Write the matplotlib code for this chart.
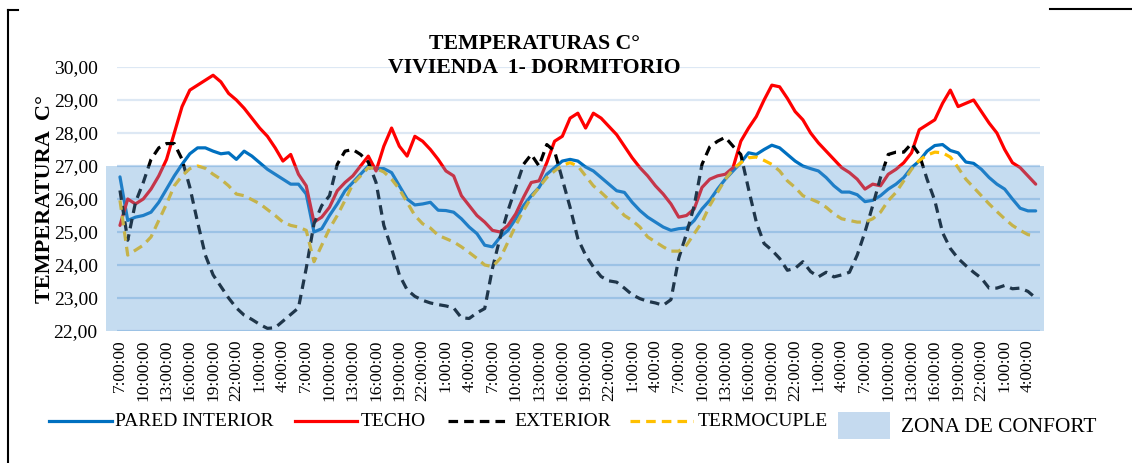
import matplotlib
matplotlib.use("Agg")
import matplotlib.pyplot as plt
from matplotlib.lines import Line2D
from matplotlib.patches import Rectangle

plt.rcParams['font.family'] = ['Liberation Serif', 'DejaVu Serif']

# ---- data (hourly, starting 7:00 day 1) ----
hours_labels = ["7:00:00", "10:00:00", "13:00:00", "16:00:00", "19:00:00",
                "22:00:00", "1:00:00", "4:00:00"] * 5

techo = [25.2, 26.0, 25.85, 26.0, 26.3, 26.7, 27.2, 28.0, 28.8, 29.3,
         29.45, 29.6, 29.75, 29.55, 29.2, 29.0, 28.75, 28.45, 28.15, 27.9,
         27.55, 27.15, 27.35, 26.75, 26.4, 25.3, 25.45, 25.75, 26.25, 26.5,
         26.7, 27.0, 27.3, 26.85, 27.6, 28.15, 27.6, 27.3, 27.9, 27.75,
         27.5, 27.2, 26.85, 26.7, 26.1, 25.8, 25.5, 25.3, 25.05, 25.0,
         25.2, 25.55, 26.05, 26.5, 26.55, 27.1, 27.75, 27.9, 28.45, 28.6,
         28.15, 28.6, 28.45, 28.2, 27.95, 27.6, 27.25, 26.95, 26.7, 26.4,
         26.15, 25.85, 25.45, 25.5, 25.7, 26.35, 26.6, 26.7, 26.75, 26.95,
         27.75, 28.15, 28.5, 29.0, 29.45, 29.4, 29.05, 28.65, 28.4, 28.0,
         27.7, 27.45, 27.2, 26.95, 26.8, 26.6, 26.3, 26.45, 26.4, 26.75,
         26.9, 27.1, 27.4, 28.1, 28.25, 28.4, 28.9, 29.3, 28.8, 28.9,
         29.0, 28.65, 28.3, 28.0, 27.5, 27.1, 26.95, 26.7, 26.45]

pared = [26.67, 25.35, 25.45, 25.5, 25.6, 25.9, 26.3, 26.7, 27.05, 27.37,
         27.55, 27.55, 27.45, 27.37, 27.4, 27.2, 27.45, 27.3, 27.1, 26.9,
         26.75, 26.6, 26.45, 26.45, 26.15, 25.0, 25.1, 25.5, 25.85, 26.25,
         26.5, 26.75, 27.0, 26.92, 26.92, 26.8, 26.4, 26.0, 25.82, 25.85,
         25.9, 25.66, 25.65, 25.6, 25.4, 25.15, 24.95, 24.6, 24.55, 24.85,
         25.05, 25.4, 25.8, 26.1, 26.35, 26.75, 26.95, 27.15, 27.2, 27.15,
         26.97, 26.85, 26.65, 26.45, 26.25, 26.2, 25.9, 25.65, 25.45, 25.3,
         25.15, 25.05, 25.1, 25.12, 25.35, 25.7, 25.96, 26.3, 26.6, 26.85,
         27.1, 27.4, 27.35, 27.5, 27.63, 27.55, 27.35, 27.15, 27.0, 26.92,
         26.85, 26.65, 26.4, 26.21, 26.21, 26.13, 25.92, 25.96, 26.1, 26.3,
         26.45, 26.65, 26.95, 27.15, 27.45, 27.62, 27.65, 27.47, 27.4, 27.12,
         27.08, 26.9, 26.65, 26.45, 26.3, 26.0, 25.72, 25.64, 25.64]

exterior = [26.26, 24.75, 25.9, 26.5, 27.2, 27.55, 27.68, 27.68, 27.2, 26.36,
            25.3, 24.3, 23.7, 23.35, 23.0, 22.7, 22.48, 22.35, 22.2, 22.08,
            22.1, 22.3, 22.5, 22.7, 23.9, 25.25, 25.8, 26.1, 27.05, 27.45,
            27.5, 27.35, 27.12, 26.5, 25.2, 24.5, 23.7, 23.25, 23.05, 22.93,
            22.85, 22.8, 22.76, 22.7, 22.4, 22.38, 22.55, 22.68, 23.9, 24.85,
            25.65, 26.35, 27.05, 27.35, 27.0, 27.65, 27.45, 26.6, 25.75, 24.8,
            24.3, 23.94, 23.65, 23.52, 23.48, 23.3, 23.1, 22.98, 22.9, 22.85,
            22.78, 22.95, 24.2, 24.95, 25.8, 27.05, 27.58, 27.75, 27.87, 27.6,
            27.35, 26.3, 25.3, 24.65, 24.45, 24.2, 23.84, 23.9, 24.1, 23.8,
            23.64, 23.78, 23.64, 23.7, 23.78, 24.3, 25.0, 25.8, 26.65, 27.35,
            27.42, 27.42, 27.68, 27.35, 26.6, 25.95, 24.98, 24.5, 24.2, 23.98,
            23.78, 23.6, 23.3, 23.3, 23.38, 23.28, 23.3, 23.2, 23.0]

termocuple = [25.96, 24.3, 24.45, 24.6, 24.85, 25.35, 25.85, 26.4, 26.7, 26.92,
              27.0, 26.93, 26.75, 26.6, 26.4, 26.15, 26.1, 25.98, 25.86, 25.68,
              25.5, 25.3, 25.2, 25.15, 25.05, 24.1, 24.6, 25.1, 25.5, 25.96,
              26.45, 26.7, 26.95, 26.92, 26.82, 26.6, 26.3, 25.9, 25.5, 25.25,
              25.12, 24.9, 24.8, 24.7, 24.55, 24.38, 24.2, 24.0, 23.95, 24.2,
              24.7, 25.2, 25.65, 26.05, 26.35, 26.65, 26.85, 27.02, 27.1, 27.0,
              26.7, 26.4, 26.2, 25.98, 25.75, 25.5, 25.35, 25.15, 24.85, 24.7,
              24.55, 24.42, 24.42, 24.6, 24.95, 25.3, 25.8, 26.2, 26.6, 26.9,
              27.1, 27.25, 27.27, 27.17, 27.05, 26.85, 26.55, 26.35, 26.1, 26.0,
              25.9, 25.75, 25.55, 25.4, 25.35, 25.3, 25.3, 25.4, 25.6, 25.95,
              26.2, 26.55, 26.9, 27.17, 27.33, 27.42, 27.4, 27.27, 26.95, 26.6,
              26.35, 26.1, 25.85, 25.62, 25.4, 25.2, 25.05, 24.92, 24.88]

comfort_low, comfort_high = 22, 27
y_ticks = [22, 23, 24, 25, 26, 27, 28, 29, 30]

# ---- figure ----
W, H = 1132, 463
fig = plt.figure(figsize=(W / 100, H / 100), dpi=100)
fig.patch.set_facecolor('white')

def fx(px):
    return px / W

def fy(py):
    return 1 - py / H

ax = fig.add_axes([fx(106), fy(331), fx(1044) - fx(106), fy(67) - fy(331)])
x = list(range(len(techo)))

ax.set_xlim(-1.8, 119.07)
ax.set_ylim(22, 30)

# gridlines
for v in y_ticks:
    col = '#dde8f4' if v > comfort_high else '#c0d8ef'
    ax.hlines(v, -0.4, 118.6, color=col, lw=1.6, zorder=0.5)

blue = '#0070C0'
red = '#FF0000'
black = '#000000'
gold = '#FFC000'
lw = 2.3
dash = (0, (3.0, 1.9))

ax.plot(x, pared, color=blue, lw=lw, zorder=2, solid_capstyle='round', solid_joinstyle='round')
ax.plot(x, techo, color=red, lw=lw, zorder=2, solid_capstyle='round', solid_joinstyle='round')
ax.plot(x, exterior, color=black, lw=lw, ls=dash, zorder=2, dash_joinstyle='round')
ax.plot(x, termocuple, color=gold, lw=lw, ls=dash, zorder=2, dash_joinstyle='round')

# comfort zone overlay
ax.axhspan(comfort_low, comfort_high, color='#5B9BD5', alpha=0.35, lw=0, zorder=3)

ax.set_yticks(y_ticks)
ax.set_yticklabels([f"{v:.2f}".replace('.', ',') for v in y_ticks], fontsize=14)
ax.set_xticks(list(range(0, 118, 3)))
ax.set_xticklabels(hours_labels, rotation=90, fontsize=12.5)
ax.tick_params(axis='both', length=0)
ax.tick_params(axis='y', pad=6)
ax.tick_params(axis='x', pad=6)
for s in ax.spines.values():
    s.set_visible(False)

fig.text(fx(45), fy(199), "TEMPERATURA  C°", rotation=90, ha='center', va='center',
         fontsize=16, fontweight='bold')

# title
fig.text(fx(534), fy(44), "TEMPERATURAS C°", ha='center', va='center',
         fontsize=15.7, fontweight='bold')
fig.text(fx(534), fy(68), "VIVIENDA  1- DORMITORIO", ha='center', va='center',
         fontsize=15.7, fontweight='bold')

# legend (manual)
ly = 421
items = [(49, 112, blue, '-', "PARED INTERIOR", 115),
         (295, 357, red, '-', "TECHO", 361),
         (448, 509, black, dash, "EXTERIOR", 514),
         (630, 693, gold, dash, "TERMOCUPLE", 698)]
for x0, x1, c, ls, lab, tx in items:
    fig.add_artist(Line2D([fx(x0), fx(x1)], [fy(ly), fy(ly)], color=c, lw=lw, ls=ls))
    fig.text(fx(tx), fy(ly), lab, ha='left', va='center', fontsize=14)
fig.add_artist(Rectangle((fx(838), fy(439)), fx(890) - fx(838), fy(412) - fy(439),
                         transform=fig.transFigure, facecolor='#C5DAEF', edgecolor='none'))
fig.text(fx(901), fy(428), "ZONA DE CONFORT", ha='left', va='center', fontsize=15.4)

# frame fragments
fig.add_artist(Line2D([fx(8), fx(8)], [fy(10), fy(463)], color='black', lw=1.5))
fig.add_artist(Line2D([fx(8), fx(18)], [fy(10), fy(10)], color='black', lw=1.5))
fig.add_artist(Line2D([fx(1050), fx(1132)], [fy(9), fy(9)], color='black', lw=1.5))

fig.savefig("out.png", dpi=100)
